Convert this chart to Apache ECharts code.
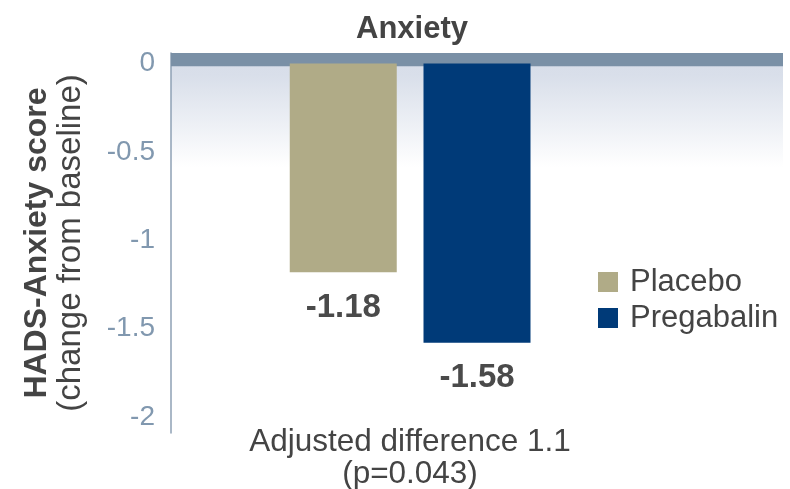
<!DOCTYPE html>
<html>
<head>
<meta charset="utf-8">
<script src="https://cdn.jsdelivr.net/npm/echarts@6/dist/echarts.min.js"></script>
<style>
  html, body { margin: 0; padding: 0; background: #ffffff; }
  #chart { width: 790px; height: 489px; }
</style>
</head>
<body>
<div id="chart"></div>
<script>
// HADS-Anxiety change from baseline, placebo vs pregabalin
const chartTitle = 'Anxiety';
const categories = ['Anxiety'];
const placeboValues = [-1.18];
const pregabalinValues = [-1.58];
const yTickValues = [0, -0.5, -1, -1.5, -2];
const footnoteLines = ['Adjusted difference 1.1', '(p=0.043)'];

const FONT = 'Liberation Sans, Arial, Helvetica, sans-serif';
const TEXT_DARK = '#444444';
const AXIS_BLUE = '#8198af';

const chart = echarts.init(document.getElementById('chart'), null, { renderer: 'canvas' });

const barLabel = {
  show: true,
  position: 'bottom',
  distance: 19,
  fontFamily: FONT,
  fontSize: 33,
  fontWeight: 'bold',
  color: '#4a4a4a',
  formatter: p => p.value.toFixed(2)
};

chart.setOption({
  animation: false,
  backgroundColor: '#ffffff',
  title: [
    {
      text: chartTitle,
      left: 407,
      top: 9,
      textAlign: 'center',
      textStyle: { fontFamily: FONT, fontSize: 31, fontWeight: 'bold', color: TEXT_DARK }
    },
    {
      text: footnoteLines.join('\n'),
      left: 405,
      top: 421,
      textAlign: 'center',
      textStyle: { fontFamily: FONT, fontSize: 31.5, fontWeight: 'normal', color: TEXT_DARK, lineHeight: 32 }
    }
  ],
  legend: {
    data: ['Placebo', 'Pregabalin'],
    orient: 'vertical',
    left: 598,
    top: 265,
    padding: 0,
    itemWidth: 20,
    itemHeight: 20,
    itemGap: 2,
    icon: 'rect',
    textStyle: { fontFamily: FONT, fontSize: 31, color: TEXT_DARK, lineHeight: 34, padding: [0, 0, 0, 7] }
  },
  grid: {
    left: 171,
    right: 7,
    top: 53,
    bottom: 56,
    show: true,
    borderWidth: 0,
    backgroundColor: new echarts.graphic.LinearGradient(0, 0, 0, 1, [
      { offset: 0, color: '#d6dce8' },
      { offset: 0.06, color: '#d9dfea' },
      { offset: 0.3, color: '#ffffff' },
      { offset: 1, color: '#ffffff' }
    ])
  },
  xAxis: {
    type: 'category',
    data: categories,
    axisLine: { show: false },
    axisTick: { show: false },
    axisLabel: { show: false },
    splitLine: { show: false }
  },
  yAxis: {
    type: 'value',
    min: -2.09,
    max: 0.06,
    name: '{b|HADS-Anxiety score}\n{n|(change from baseline)}',
    nameLocation: 'middle',
    nameRotate: 90,
    nameGap: 84,
    nameTextStyle: {
      rich: {
        b: { fontFamily: FONT, fontSize: 32, fontWeight: 'bold', color: TEXT_DARK, lineHeight: 33 },
        n: { fontFamily: FONT, fontSize: 33, fontWeight: 'normal', color: TEXT_DARK, lineHeight: 33 }
      }
    },
    axisLine: { show: true, lineStyle: { color: '#8ea1b5', width: 1.5 } },
    axisTick: { show: false },
    splitLine: { show: false },
    axisLabel: {
      customValues: yTickValues,
      fontFamily: FONT,
      fontSize: 28,
      color: AXIS_BLUE,
      margin: 16
    }
  },
  series: [
    {
      name: 'Placebo',
      type: 'bar',
      data: placeboValues,
      barWidth: 107,
      barGap: '25%',
      itemStyle: { color: '#b0ab87' },
      label: barLabel,
      z: 3
    },
    {
      name: 'Pregabalin',
      type: 'bar',
      data: pregabalinValues,
      barWidth: 107,
      itemStyle: { color: '#003a78' },
      label: barLabel,
      z: 3
    },
    {
      // empty slot that keeps the two bars left of the category centre;
      // also carries the steel-blue band along the zero line
      name: 'spacer',
      type: 'bar',
      data: [null],
      barWidth: 107,
      z: 1,
      markArea: {
        silent: true,
        itemStyle: { color: '#7a90a6' },
        data: [[{ yAxis: 0.06 }, { yAxis: -0.015 }]]
      }
    }
  ]
});
</script>
</body>
</html>
